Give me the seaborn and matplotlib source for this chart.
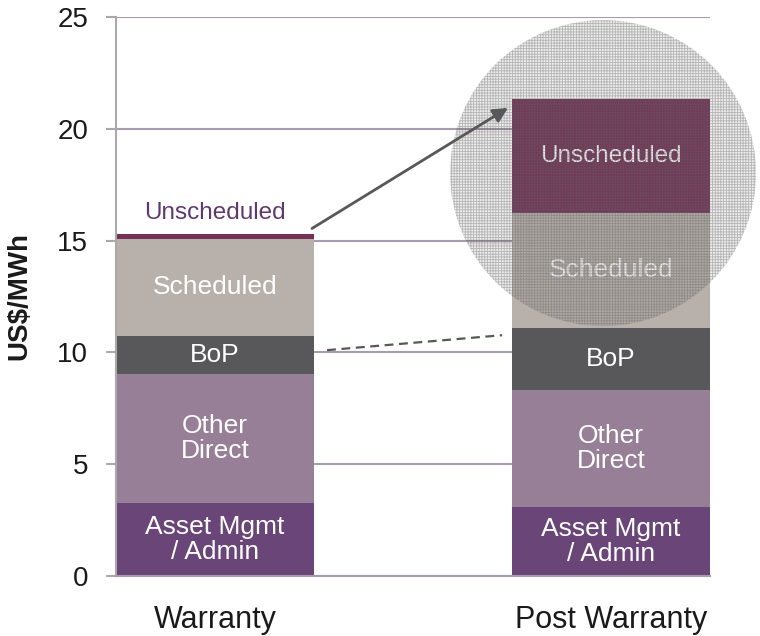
import numpy as np
import pandas as pd
import matplotlib
matplotlib.use("Agg")
import matplotlib.pyplot as plt
from matplotlib.patches import Ellipse
import seaborn as sns

# O&M cost build-up, US$/MWh
periods = ["Warranty", "Post Warranty"]
components = ["Asset Mgmt / Admin", "Other Direct", "BoP", "Scheduled", "Unscheduled"]
asset_mgmt = [3.27, 3.09]
other_direct = [5.76, 5.23]
bop = [1.72, 2.79]
scheduled = [4.32, 5.15]
unscheduled = [0.23, 5.09]
segment_labels = ["Asset Mgmt\n/ Admin", "Other\nDirect", "BoP", "Scheduled", "Unscheduled"]
y_ticks = [0, 5, 10, 15, 20, 25]

colors = {
    "Asset Mgmt / Admin": "#6a4577",
    "Other Direct": "#977f98",
    "BoP": "#58585a",
    "Scheduled": "#b8b0aa",
    "Unscheduled": "#733156",
}

values = [asset_mgmt, other_direct, bop, scheduled, unscheduled]
rows = []
for comp, label, vals in zip(components, segment_labels, values):
    for per, v in zip(periods, vals):
        rows.append({"period": per, "component": comp, "label": label, "value": v})
df = pd.DataFrame(rows)
df["top"] = df.groupby("period")["value"].cumsum()
df["bottom"] = df["top"] - df["value"]

sns.set_theme(style="white")
plt.rcParams["font.family"] = ["Liberation Sans", "DejaVu Sans"]

fig = plt.figure(figsize=(7.6, 6.36), dpi=100)
ax = fig.add_axes([0.1526, 0.0948, 0.7816, 0.8778])

order = ["Warranty", " ", "Post Warranty"]
pos = {p: i for i, p in enumerate(order)}

# stacked bars: draw cumulative totals from the top layer down
for comp in reversed(components):
    sub = df[df["component"] == comp]
    sns.barplot(data=sub, x="period", y="top", order=order, color=colors[comp],
                saturation=1, width=1.0, errorbar=None, linewidth=0, ax=ax, zorder=2)

ax.set_xlim(-0.5, 2.5)
ax.set_ylim(0, 25)
ax.set_yticks(y_ticks)
ax.set_yticklabels([str(t) for t in y_ticks], fontsize=20, color="#1a1a1a")
ax.set_xticks([-0.5, 0.5, 1.5, 2.5])
ax.set_xticklabels([])
ax.set_xticks([pos[p] for p in periods], minor=True)
ax.set_xticklabels(periods, minor=True, fontsize=22, color="#1a1a1a")
ax.tick_params(axis="x", which="major", length=8, width=1.5, color="#a9a9a9", direction="out")
ax.tick_params(axis="x", which="minor", length=0, pad=21)
ax.tick_params(axis="y", length=7, width=1.5, color="#a9a9a9", direction="out", pad=13, left=True)
ax.set_xlabel("")
ax.set_ylabel("US$/MWh", fontsize=20, fontweight="bold", color="#1a1a1a")
ax.yaxis.set_label_coords(-0.141, 0.501)

ax.grid(axis="y", color="#a89bb0", linewidth=1.5, zorder=1)
ax.set_axisbelow(True)
for s in ["top", "right"]:
    ax.spines[s].set_visible(False)
ax.spines["left"].set_color("#a9a9a9")
ax.spines["left"].set_linewidth(1.5)
ax.spines["bottom"].set_color("#a89bb0")
ax.spines["bottom"].set_linewidth(1.5)

# segment labels
for _, r in df.iterrows():
    x = pos[r["period"]]
    size = 17.5 if r["component"] == "Unscheduled" else 19
    if r["period"] == "Warranty" and r["component"] == "Unscheduled":
        ax.text(x, r["top"] + 0.95, r["label"], ha="center", va="center",
                fontsize=size, color="#5f3870", zorder=6)
    else:
        ax.text(x, (r["top"] + r["bottom"]) / 2, r["label"], ha="center", va="center",
                fontsize=size, color="white", linespacing=1.05, zorder=3)

# highlight around the post-warranty increase
plt.rcParams["hatch.linewidth"] = 0.6
circle = Ellipse((1.96, 18.03), 1.545, 13.7, facecolor=(0.45, 0.45, 0.45, 0.12),
                 edgecolor=(0.38, 0.38, 0.38, 0.4), hatch="++++++", linewidth=0,
                 zorder=4, clip_on=False)
ax.add_patch(circle)

# connectors
w_top = sum(v[0] for v in values)
p_top = sum(v[1] for v in values)
ax.annotate("", xy=(1.48, p_top - 0.4), xytext=(0.49, w_top + 0.25),
            arrowprops=dict(arrowstyle="-|>", color="#58585a", lw=2,
                            mutation_scale=22, shrinkA=0, shrinkB=0), zorder=7)
ax.plot([0.566, 1.45], [10.1, 10.77], linestyle=(0, (4, 2.5)), color="#58585a",
        linewidth=1.6, zorder=7)

fig.savefig("out.png", dpi=100)
